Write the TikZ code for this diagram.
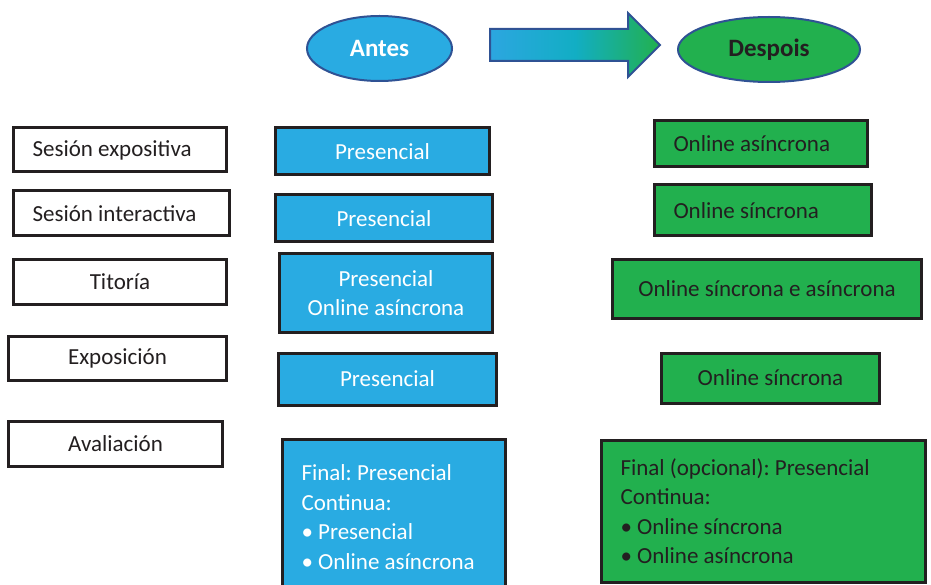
\documentclass[tikz,border=0pt]{standalone}
\usepackage{fontspec}
\setmainfont{Carlito}
\usetikzlibrary{
	positioning,
	shapes.geometric,
	shapes.arrows
}
\definecolor{antesblue}{RGB}{41,171,226}
\definecolor{despoisgreen}{RGB}{34,176,78}
\definecolor{inkdark}{RGB}{35,31,32}
\definecolor{ovalline}{RGB}{47,82,148}
\definecolor{arrowstart}{RGB}{44,166,224}
\definecolor{arrowmid}{RGB}{18,174,196}

\begin{document}
\begin{tikzpicture}[
			x=1pt,y=-1pt,
			every node/.style={font=\fontsize{23}{29.5}\selectfont\frenchspacing, text=inkdark},
			block/.style={
				draw=inkdark,
				line width=3pt,
				inner sep=0pt,
				align=center
			},
			itembox/.style={block, fill=white},
			antesbox/.style={block, fill=antesblue, text=white},
			despoisbox/.style={block, fill=despoisgreen},
			padded/.style={align=flush left, text width=#1, inner xsep=19pt},
			oval/.style={
				ellipse,
				draw=ovalline,
				line width=2pt,
				inner sep=0pt,
				minimum height=65pt,
				font=\fontsize{25}{30}\selectfont\bfseries
			}
			]
			
			\useasboundingbox (0,0) rectangle (931,585);
			\clip (0,0) rectangle (931,585);
			
			\node[oval, fill=antesblue, text=white, minimum width=145pt] (antes) at (379.5,48.5)
			{Antes};
			
			\node[oval, fill=despoisgreen, minimum width=182pt] (despois) at (769,49.5)
			{Despois};
			
			\node[single arrow, draw=ovalline, line width=2pt,
				left color=arrowstart, right color=despoisgreen, middle color=arrowmid,
				inner xsep=0pt, inner ysep=15pt, minimum height=170pt,
				single arrow head extend=16pt, single arrow tip angle=90,
				anchor=tail] (shift) at (489,45) {};
			
			\node[itembox, padded=175pt, minimum height=44pt] (expositiva) at (120,150)
			{Sesión expositiva};
			
			\node[itembox, padded=178pt, minimum height=45pt] (interactiva) at (121.5,213.5)
			{Sesión interactiva};
			
			\node[itembox, minimum width=213pt, minimum height=44pt] (titoria) at (120,282)
			{Titoría};
			
			\node[itembox, minimum width=218pt, minimum height=44pt] (exposicion) at (117.5,358)
			{Exposición};
			
			\node[itembox, minimum width=214pt, minimum height=45pt] (avaliacion) at (115.5,443.5)
			{Avaliación};
			
			\node[antesbox, minimum width=214pt, minimum height=47pt] (antes1) at (382.5,151.5)
			{Presencial};
			
			\node[antesbox, minimum width=217pt, minimum height=47pt] (antes2) at (384,218.5)
			{Presencial};
			
			\node[antesbox, minimum width=213pt, minimum height=78pt] (antes3) at (386,293)
			{Presencial\\Online asíncrona};
			
			\node[antesbox, minimum width=218pt, minimum height=52pt] (antes4) at (387.5,379)
			{Presencial};
			
			\node[antesbox, padded=185pt, minimum height=155pt] (antes5) at (394,517)
			{Final: Presencial\\Continua:\\• Presencial\\• Online asíncrona};
			
			\node[despoisbox, padded=175pt, minimum height=46pt] (despois1) at (761,144)
			{Online asíncrona};
			
			\node[despoisbox, padded=179pt, minimum height=51pt] (despois2) at (763,210.5)
			{Online síncrona};
			
			\node[despoisbox, minimum width=309pt, minimum height=58pt] (despois3) at (767,289)
			{Online síncrona e asíncrona};
			
			\node[despoisbox, minimum width=218pt, minimum height=50pt] (despois4) at (770.5,378)
			{Online síncrona};
			
			\node[despoisbox, padded=286pt, minimum height=142pt] (despois5) at (763.5,511)
			{Final (opcional): Presencial\\Continua:\\• Online síncrona\\• Online asíncrona};
			
		\end{tikzpicture}
\end{document}
